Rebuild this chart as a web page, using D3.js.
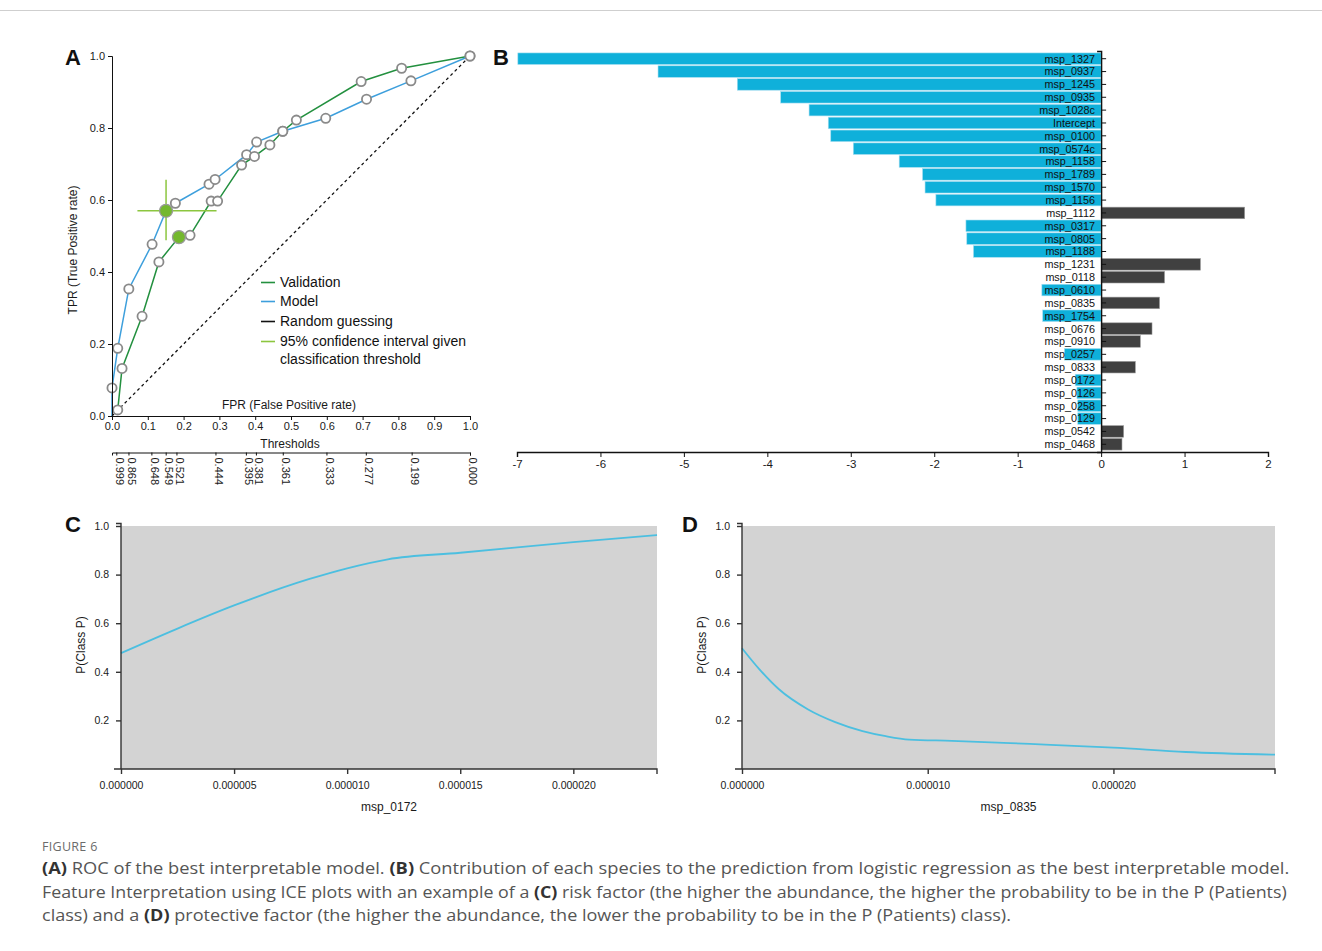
<!DOCTYPE html>
<html>
<head>
<meta charset="utf-8">
<script src="https://cdn.jsdelivr.net/npm/d3@7"></script>
<style>
  body { margin: 0; background: #fff; }
  svg text { font-family: "Liberation Sans", Arial, sans-serif; }
  .caption text { font-family: "Open Sans", "Noto Sans", sans-serif; }
</style>
</head>
<body>
<svg id="fig" width="1322" height="951"></svg>
<script>
"use strict";

// ---- Panel A : ROC ----
let modelFpr = [0, 0, 0.016, 0.047, 0.112, 0.151, 0.177, 0.271, 0.288, 0.376, 0.404, 0.477, 0.597, 0.711, 0.835, 1]
let modelTpr = [0, 0.078, 0.188, 0.353, 0.477, 0.570, 0.591, 0.644, 0.657, 0.726, 0.761, 0.791, 0.827, 0.880, 0.931, 1]
let validFpr = [0.016, 0.028, 0.084, 0.131, 0.187, 0.218, 0.277, 0.295, 0.362, 0.398, 0.441, 0.477, 0.515, 0.696, 0.809, 1]
let validTpr = [0.017, 0.132, 0.277, 0.428, 0.497, 0.502, 0.597, 0.597, 0.697, 0.721, 0.753, 0.791, 0.822, 0.929, 0.966, 1]
let modelThrIdx = 5   // filled point on model curve
let validThrIdx = 4   // filled point on validation curve
let ciFpr = [0.071, 0.292]
let ciTpr = [0.488, 0.656]
let thrLabels = ["0.999", "0.865", "0.648", "0.549", "0.521", "0.444", "0.395", "0.381", "0.361", "0.333", "0.277", "0.199", "0.000"]
let thrFpr = [0.012, 0.046, 0.11, 0.15, 0.18, 0.289, 0.374, 0.402, 0.477, 0.599, 0.709, 0.837, 1.0]
let legendItems = [
  {label: ["Validation"], color: "#23903f"},
  {label: ["Model"], color: "#3d9fdc"},
  {label: ["Random guessing"], color: "#111"},
  {label: ["95% confidence interval given", "classification threshold"], color: "#8cc63f"}
]

// ---- Panel B : coefficients ----
let bFeatures = ["msp_1327", "msp_0937", "msp_1245", "msp_0935", "msp_1028c", "Intercept", "msp_0100", "msp_0574c",
  "msp_1158", "msp_1789", "msp_1570", "msp_1156", "msp_1112", "msp_0317", "msp_0805", "msp_1188", "msp_1231",
  "msp_0118", "msp_0610", "msp_0835", "msp_1754", "msp_0676", "msp_0910", "msp_0257", "msp_0833", "msp_0172",
  "msp_0126", "msp_0258", "msp_0129", "msp_0542", "msp_0468"]
let bValues = [-6.99, -5.31, -4.36, -3.84, -3.50, -3.27, -3.24, -2.97, -2.42, -2.14, -2.11, -1.98, 1.72, -1.62, -1.61,
  -1.53, 1.19, 0.76, -0.71, 0.70, -0.70, 0.61, 0.47, -0.44, 0.41, -0.31, -0.29, -0.28, -0.28, 0.27, 0.25]
let bTicks = [-7, -6, -5, -4, -3, -2, -1, 0, 1, 2]

// ---- Panel C / D : ICE ----
let cX = [0, 2.5e-6, 5e-6, 8.3e-6, 10e-6, 11.8e-6, 15e-6, 20e-6, 23.7e-6]
let cY = [0.477, 0.578, 0.673, 0.781, 0.826, 0.863, 0.890, 0.934, 0.963]
let dX = [0, 0.94e-6, 1.99e-6, 3.56e-6, 5.02e-6, 6.49e-6, 7.74e-6, 9.0e-6, 11.3e-6, 15.5e-6, 20e-6, 23.9e-6, 28.7e-6]
let dY = [0.497, 0.41, 0.328, 0.245, 0.193, 0.156, 0.135, 0.121, 0.116, 0.103, 0.088, 0.070, 0.059]
let pTicks = [0.2, 0.4, 0.6, 0.8, 1.0]

let captionLines = [
  [["(A)", true], [" ROC of the best interpretable model. ", false], ["(B)", true], [" Contribution of each species to the prediction from logistic regression as the best interpretable model.", false]],
  [["Feature Interpretation using ICE plots with an example of a ", false], ["(C)", true], [" risk factor (the higher the abundance, the higher the probability to be in the P (Patients)", false]],
  [["class) and a ", false], ["(D)", true], [" protective factor (the higher the abundance, the lower the probability to be in the P (Patients) class).", false]]
]

let svg = d3.select("#fig")

svg.append("line").attr("x1", 0).attr("x2", 1322).attr("y1", 10.5).attr("y2", 10.5)
    .attr("stroke", "#cfcfcf").attr("stroke-width", 1)

function panelLetter(ch, x, y){
  svg.append("text").attr("x", x).attr("y", y).text(ch)
      .attr("font-size", 22).attr("font-weight", "bold").attr("fill", "#111")
}

function styleAxis(g, size){
  g.attr("font-size", size)
  g.selectAll("text").attr("font-size", size).attr("fill", "#1a1a1a")
  g.selectAll("line, path").attr("stroke", "#111")
}

// ================= Panel A =================
let xA = d3.scaleLinear([0, 1], [112, 470])
let yA = d3.scaleLinear([0, 1], [416, 56])
let gA = svg.append("g")

// random guessing diagonal
gA.append("line")
    .attr("x1", xA(0)).attr("y1", yA(0)).attr("x2", xA(1)).attr("y2", yA(1))
    .attr("stroke", "#111").attr("stroke-width", 1.3).attr("stroke-dasharray", "3,3")

let lineA = d3.line()
let modelPts = modelFpr.map((f, i) => [xA(f), yA(modelTpr[i])])
let validPts = validFpr.map((f, i) => [xA(f), yA(validTpr[i])])

gA.append("path").attr("d", lineA(validPts)).attr("fill", "none")
    .attr("stroke", legendItems[0].color).attr("stroke-width", 1.5)
gA.append("path").attr("d", lineA(modelPts)).attr("fill", "none")
    .attr("stroke", legendItems[1].color).attr("stroke-width", 1.5)

// CI cross
let ciCol = legendItems[3].color
gA.append("line").attr("x1", xA(ciFpr[0])).attr("x2", xA(ciFpr[1]))
    .attr("y1", yA(modelTpr[modelThrIdx])).attr("y2", yA(modelTpr[modelThrIdx]))
    .attr("stroke", ciCol).attr("stroke-width", 1.5)
gA.append("line").attr("y1", yA(ciTpr[0])).attr("y2", yA(ciTpr[1]))
    .attr("x1", xA(modelFpr[modelThrIdx])).attr("x2", xA(modelFpr[modelThrIdx]))
    .attr("stroke", ciCol).attr("stroke-width", 1.5)

// open markers
let openPts = modelPts.filter((p, i) => i > 0 && i !== modelThrIdx)
    .concat(validPts.filter((p, i) => i !== validThrIdx))
gA.selectAll("circle.open").data(openPts).join("circle")
    .attr("class", "open")
    .attr("cx", d => d[0]).attr("cy", d => d[1]).attr("r", 4.6)
    .attr("fill", "#fff").attr("stroke", "#8a8a8a").attr("stroke-width", 1.8)

// threshold markers
gA.selectAll("circle.thr").data([modelPts[modelThrIdx], validPts[validThrIdx]]).join("circle")
    .attr("class", "thr")
    .attr("cx", d => d[0]).attr("cy", d => d[1]).attr("r", 6.5)
    .attr("fill", "#74b82e").attr("stroke", "#9a9a9a").attr("stroke-width", 1.3)

// axes
let axA_x = gA.append("g").attr("transform", "translate(0," + yA(0) + ")")
    .call(d3.axisBottom(xA).tickValues(d3.range(0, 1.01, 0.1)).tickFormat(d3.format(".1f")).tickSize(4).tickPadding(2))
styleAxis(axA_x, 11)
let axA_y = gA.append("g").attr("transform", "translate(" + xA(0) + ",0)")
    .call(d3.axisLeft(yA).tickValues([0, 0.2, 0.4, 0.6, 0.8, 1]).tickFormat(d3.format(".1f")).tickSize(4).tickPadding(3))
styleAxis(axA_y, 11)

gA.append("text").attr("x", 289).attr("y", 409).attr("text-anchor", "middle")
    .attr("font-size", 12).attr("fill", "#1a1a1a").text("FPR (False Positive rate)")
gA.append("text").attr("transform", "translate(77,250) rotate(-90)").attr("text-anchor", "middle")
    .attr("font-size", 12).attr("fill", "#1a1a1a").text("TPR (True Positive rate)")
gA.append("text").attr("x", 290).attr("y", 448).attr("text-anchor", "middle")
    .attr("font-size", 12).attr("fill", "#1a1a1a").text("Thresholds")

// thresholds axis
let axThr = gA.append("g").attr("transform", "translate(0,452.5)")
    .call(d3.axisBottom(xA).tickValues(thrFpr).tickFormat((d, i) => thrLabels[i]).tickSize(3).tickSizeOuter(3))
axThr.selectAll("text")
    .attr("y", 0).attr("x", 5).attr("dy", "0.1em")
    .attr("transform", "rotate(90)")
    .style("text-anchor", "start")
styleAxis(axThr, 11)

// legend
let legY = [287, 306, 326, 346]
legendItems.forEach((it, i) => {
  gA.append("line").attr("x1", 261).attr("x2", 275).attr("y1", legY[i] - 4.5).attr("y2", legY[i] - 4.5)
      .attr("stroke", it.color).attr("stroke-width", 1.6)
  it.label.forEach((t, j) => {
    gA.append("text").attr("x", 280).attr("y", legY[i] + j * 17.5).attr("font-size", 14)
        .attr("fill", "#111").text(t)
  })
})
panelLetter("A", 65, 65)

// ================= Panel B =================
let xB = d3.scaleLinear([-7, 2], [517, 1268])
let yB = d3.scaleBand(bFeatures, [51, 452]).paddingInner(0.1).paddingOuter(0.15)
let gB = svg.append("g")

gB.selectAll("rect.bar").data(bFeatures).join("rect")
    .attr("class", "bar")
    .attr("x", (d, i) => xB(Math.min(0, bValues[i])))
    .attr("width", (d, i) => Math.abs(xB(bValues[i]) - xB(0)))
    .attr("y", d => yB(d))
    .attr("height", yB.bandwidth())
    .attr("fill", (d, i) => bValues[i] < 0 ? "#0fb0da" : "#404040")
    .attr("stroke", (d, i) => bValues[i] < 0 ? "#a8def0" : "#9a9a9a")
    .attr("stroke-width", 0.6)

gB.selectAll("text.lbl").data(bFeatures).join("text")
    .attr("class", "lbl")
    .attr("x", 1095).attr("y", d => yB(d) + yB.bandwidth() / 2).attr("dy", "0.36em")
    .attr("text-anchor", "end").attr("font-size", 10.8).attr("fill", "#111")
    .text(d => d)

let axB_y = gB.append("g").attr("transform", "translate(" + xB(0) + ",0)")
    .call(d3.axisRight(yB).tickSize(5).tickSizeOuter(-4).tickFormat(""))
styleAxis(axB_y, 11)
axB_y.select(".domain").attr("stroke-width", 1.4)

let axB_x = gB.append("g").attr("transform", "translate(0,452)")
    .call(d3.axisBottom(xB).tickValues(bTicks).tickFormat(d => String(d)).tickSize(5).tickPadding(3))
styleAxis(axB_x, 11.5)
axB_x.select(".domain").attr("stroke-width", 1.4)
panelLetter("B", 493, 65)

// ================= Panels C and D =================
function icePanel(xs, ys, xRange, xMax, xTicks, xLabel){
  let x = d3.scaleLinear([0, xMax], xRange)
  let y = d3.scaleLinear([0, 1], [769, 526])
  let g = svg.append("g")
  g.append("rect").attr("x", x(0)).attr("y", y(1)).attr("width", x(xMax) - x(0)).attr("height", y(0) - y(1))
      .attr("fill", "#d3d3d3")
  let line = d3.line().x((d, i) => x(xs[i])).y(d => y(d)).curve(d3.curveMonotoneX)
  g.append("path").attr("d", line(ys)).attr("fill", "none")
      .attr("stroke", "#4cbfe0").attr("stroke-width", 1.8)

  let ax = g.append("g").attr("transform", "translate(0," + y(0) + ")")
      .call(d3.axisBottom(x).tickValues(xTicks).tickFormat(d3.format(".6f")).tickSize(5).tickPadding(8))
  ax.select(".domain").attr("d", "M" + (x(0) - 7) + ",0H" + x(xMax) + "V5")
  styleAxis(ax, 10.5)
  ax.selectAll("line, path").attr("stroke", "#333").attr("stroke-width", 1.4)

  let ay = g.append("g").attr("transform", "translate(" + x(0) + ",0)")
      .call(d3.axisLeft(y).tickValues(pTicks).tickFormat(d3.format(".1f")).tickSize(5).tickPadding(7))
  ay.select(".domain").attr("d", "M-5," + (y(1) - 2.5) + "H0V" + y(0))
  styleAxis(ay, 10.5)
  ay.selectAll("line, path").attr("stroke", "#333").attr("stroke-width", 1.4)

  g.append("text").attr("x", (xRange[0] + xRange[1]) / 2).attr("y", 811).attr("text-anchor", "middle")
      .attr("font-size", 12).attr("fill", "#1a1a1a").text(xLabel)
  g.append("text").attr("transform", "translate(" + (xRange[0] - 36) + ",645) rotate(-90)")
      .attr("text-anchor", "middle").attr("font-size", 12).attr("fill", "#1a1a1a").text("P(Class P)")
}

icePanel(cX, cY, [121, 657], 23.7e-6, [0, 5e-6, 10e-6, 15e-6, 20e-6], "msp_0172")
icePanel(dX, dY, [742, 1275], 28.7e-6, [0, 10e-6, 20e-6], "msp_0835")
panelLetter("C", 65, 532)
panelLetter("D", 682, 532)

// ================= Caption =================
let cap = svg.append("g").attr("class", "caption")
cap.append("text").attr("x", 42).attr("y", 851).attr("font-size", 12.5)
    .attr("fill", "#6b6b6b").attr("letter-spacing", 0.3).text("FIGURE 6")

let capBase = [874, 898, 921]
let capWidths = [1248, 1246, null]
let scales = []
let capTexts = captionLines.map((parts, i) => {
  let t = cap.append("text").attr("font-size", 15.5).attr("fill", "#555")
  parts.forEach(p => {
    t.append("tspan").text(p[0]).attr("font-weight", p[1] ? "bold" : null).attr("fill", p[1] ? "#333" : null)
  })
  return t
})
capTexts.forEach((t, i) => {
  if (capWidths[i]) scales.push(capWidths[i] / t.node().getComputedTextLength())
})
let avgScale = d3.mean(scales)
capTexts.forEach((t, i) => {
  let k = capWidths[i] ? scales[i] : avgScale
  t.attr("transform", "translate(42," + capBase[i] + ") scale(" + k + ",1)")
})
</script>
</body>
</html>
